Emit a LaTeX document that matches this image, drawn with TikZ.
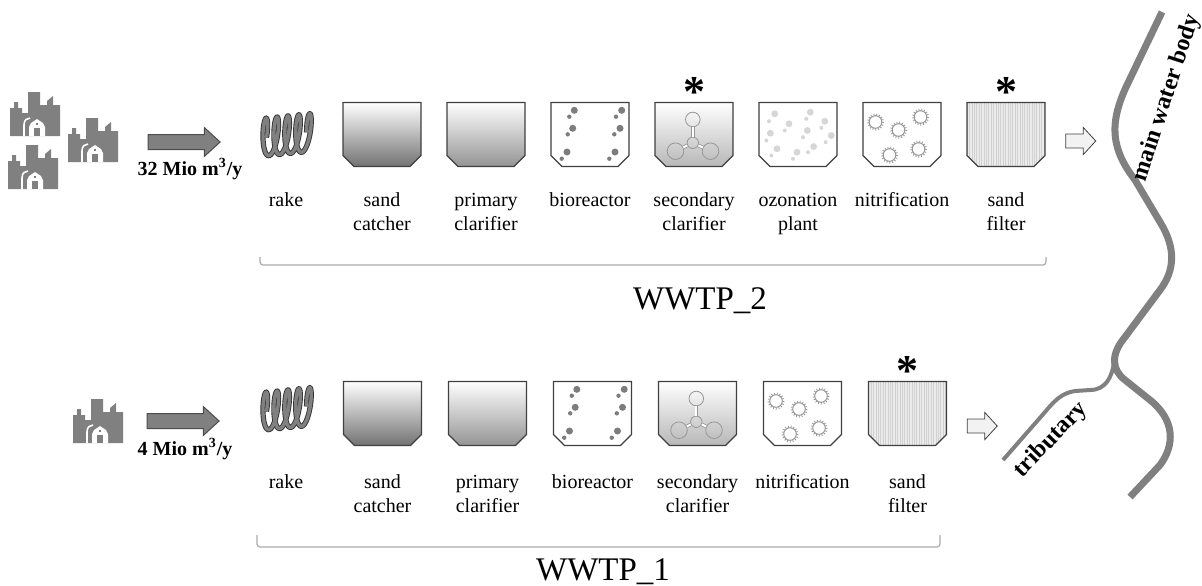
\documentclass[tikz,border=0pt]{standalone}
\usepackage{fontspec}
\setmainfont{Liberation Serif}
\usetikzlibrary{
  shapes.arrows,
  patterns.meta,
  positioning,
  calc
}
\definecolor{icongray}{RGB}{128,128,128}
\definecolor{tankcolor}{RGB}{64,64,64}
\definecolor{dotgray}{RGB}{125,125,125}
\definecolor{ozonegray}{RGB}{214,214,214}
\definecolor{symbolgray}{RGB}{150,150,150}
\definecolor{bracketgray}{RGB}{170,170,170}
\definecolor{rivergray}{RGB}{128,128,128}
\tikzset{
tank/.style={
  rectangle,
  minimum width=39pt,
  minimum height=32pt,
  inner sep=0pt,
  outer sep=0pt
},
tankwall/.style={
  draw=tankcolor,
  line width=0.6pt
},
steplabel/.style={
  font=\fontsize{10}{12}\selectfont,
  align=center,
  anchor=base,
  inner sep=0pt
},
twoline/.style={
  yshift=-12pt
},
flowlabel/.style={
  font=\bfseries\fontsize{10}{12}\selectfont,
  anchor=base,
  inner sep=0pt
},
plantlabel/.style={
  font=\fontsize{16.5}{18}\selectfont,
  anchor=base,
  inner sep=0pt
},
riverlabel/.style={
  font=\bfseries\fontsize{12}{14}\selectfont,
  inner sep=0pt
},
asterisk/.style={
  font=\bfseries\fontsize{22}{22}\selectfont,
  anchor=base,
  inner sep=0pt
},
flowarrow/.style={
  single arrow,
  draw=black!70,
  fill=icongray,
  line width=0.5pt,
  minimum height=36pt,
  inner sep=3.5pt,
  single arrow head extend=3.5pt,
  single arrow tip angle=85
},
outarrow/.style={
  single arrow,
  draw=black!75,
  fill=black!5,
  line width=0.4pt,
  minimum height=15pt,
  inner sep=3.3pt,
  single arrow head extend=3.3pt,
  single arrow tip angle=95
},
lobe/.style={
  circle,
  draw=symbolgray,
  line width=0.4pt,
  inner sep=0pt
},
stem/.style={
  draw=symbolgray,
  line width=0.4pt,
  double=white,
  double distance=1pt
},
cellwall/.style={
  draw=symbolgray,
  line width=0.5pt
},
cellhair/.style={
  draw=symbolgray,
  line width=0.9pt,
  dash pattern=on 0.4pt off 1pt
},
rakecoil/.style={
  draw=black!80,
  line width=0.45pt,
  double=icongray,
  double distance=1.7pt
},
bracket/.style={
  draw=bracketgray,
  line width=0.6pt,
  rounded corners=1.5pt
},
river/.style={
  draw=rivergray,
  line join=round
},
factory/.pic={
  \fill[icongray] (0,44) -- (0,16) -- (4,16) -- (4,10) -- (8,10) -- (8,16)
    -- (12,16) -- (12,21) -- (18,21) -- (18,0) -- (30,0) -- (30,13)
    -- (37,13) -- (37,9) -- (43,4) -- (43,13) -- (50,13) -- (50,44) -- cycle;
  \draw[white, line width=0.8pt] (14,44) -- (14,33) .. controls (14,28) and (17,26) .. (20,26);
  \fill[white] (19,44) -- (19,35) -- (21,31) -- (27,27) -- (33,31) -- (35,35) -- (35,44) -- cycle;
  \fill[icongray] (24,36) rectangle (30,44);
  \fill[icongray] (26,30.5) rectangle (28,32.5);
}
}

% outline of a basin with cut lower corners
\newcommand{\drawtank}[2]{%
  \path[tankwall,#2] (#1.north west) -- (#1.north east)
    -- ([yshift=5.5pt]#1.south east) -- ([xshift=-5.5pt]#1.south east)
    -- ([xshift=5.5pt]#1.south west) -- ([yshift=5.5pt]#1.south west) -- cycle;}

% basin contents, drawn round the origin
\newcommand{\biodots}{%
  \foreach \x/\y in {-15.7/-24.2, -17.3/-6.2, -23/17.5, 31.7/-24.2, 30/-6.2, 25/17.5}
    \fill[dotgray] (\x,\y) circle (3.5);
  \foreach \x/\y in {-20.7/-17.8, -22.3/-0.2, -28.3/24.2, 26/-17.8, 24.3/-0.2, 19.3/24.2}
    \fill[dotgray] (\x,\y) circle (2.2);}
\newcommand{\ozonedots}{%
  \foreach \x/\y in {-23.3/-20.7, -9/-10.7, -27.7/-1.3, -21/14.3, 12.3/-22.3,
                     26.7/-13.3, 9.3/-4, 33.3/1, 15.7/12, -1/17.7}
    \fill[ozonegray] (\x,\y) circle (3.4);
  \foreach \x/\y in {-29/-13.3, -13.3/-4, -31.7/6, -26.7/21, 8.3/-15.7,
                     23.3/-6.7, 5/2.7, 27.7/7.7, 10/17.7, -5/24.3}
    \fill[ozonegray] (\x,\y) circle (2);}
\newcommand{\nitrocells}{%
  \foreach \x/\y in {-26.5/-12.5, -3.5/-4.5, 18.5/-17.5, -12.5/20.5, 16.5/14.5} {
    \draw[cellwall] (\x,\y) circle (6.3);
    \draw[cellhair] (\x,\y) circle (7.6);}}
\newcommand{\clarsymbol}{%
  \node[lobe, minimum size=5.7pt] (hub) at (-1.2,8.3) {};
  \node[lobe, minimum size=7.3pt] (lobeA) at (-1.2,-15) {};
  \node[lobe, minimum size=8.3pt] (lobeB) at (-18.5,16.7) {};
  \node[lobe, minimum size=8.3pt] (lobeC) at (16.5,16.7) {};
  \foreach \l in {lobeA,lobeB,lobeC} \draw[stem] (hub) -- (\l);}
\newcommand{\rakecoil}{%
  \draw[rakecoil] plot[domain=0:1620, samples=200, smooth]
    ({-24+\x/33+4.5*cos(\x)+1.5*sin(\x)}, {3-19*sin(\x)-\x/320});}

\begin{document}
\begin{tikzpicture}[x=0.5pt, y=-0.5pt]
  \useasboundingbox (0,0) rectangle (1202,585);

  % Sources and inflow
  \pic at (10,92) {factory};
  \pic at (68,118) {factory};
  \pic at (8,145) {factory};
  \pic at (73,399) {factory};

  \node[flowarrow] (in2) at (180,142) {};
  \node[flowlabel] (q2) at (190,175) {32 Mio m\textsuperscript{3}/y};
  \node[flowarrow] (in1) at (179,421) {};
  \node[flowlabel] (q1) at (185,455) {4 Mio m\textsuperscript{3}/y};

  % Row 1: WWTP_2
  \node[tank] (t2rake) at (286,134.5) {};
  \node[tank] (t2sand) at (382,134.5) {};
  \node[tank, right=13pt of t2sand] (t2prim) {};
  \node[tank, right=13pt of t2prim] (t2bio) {};
  \node[tank, right=13pt of t2bio] (t2clar) {};
  \node[tank, right=13pt of t2clar] (t2ozone) {};
  \node[tank, right=13pt of t2ozone] (t2nitro) {};
  \node[tank, right=13pt of t2nitro] (t2filter) {};

  \begin{scope}[shift={(t2rake.center)}] \rakecoil \end{scope}
  \drawtank{t2sand}{top color=white, middle color=black!10, bottom color=black!55}
  \drawtank{t2prim}{top color=white, middle color=black!6, bottom color=black!42}
  \drawtank{t2bio}{fill=white}
  \begin{scope}[shift={(t2bio.center)}] \biodots \end{scope}
  \drawtank{t2clar}{top color=white, middle color=white, bottom color=black!28}
  \begin{scope}[shift={(t2clar.center)}] \clarsymbol \end{scope}
  \drawtank{t2ozone}{fill=white}
  \begin{scope}[shift={(t2ozone.center)}] \ozonedots \end{scope}
  \drawtank{t2nitro}{fill=white}
  \begin{scope}[shift={(t2nitro.center)}] \nitrocells \end{scope}
  \drawtank{t2filter}{preaction={fill=black!8}, pattern={Lines[angle=90, distance=1.2pt, line width=0.4pt]}, pattern color=black!18}

  \node[asterisk] (a2clar) at ([yshift=-2pt]t2clar.north) {*};
  \node[asterisk] (a2filter) at ([yshift=-2pt]t2filter.north) {*};

  \node[steplabel] (l2rake) at ([yshift=-20pt]t2sand.south -| t2rake) {rake};
  \node[steplabel, twoline] (l2sand) at ([yshift=-20pt]t2sand.south) {sand\\catcher};
  \node[steplabel, twoline] (l2prim) at ([yshift=-20pt]t2prim.south) {primary\\clarifier};
  \node[steplabel] (l2bio) at ([yshift=-20pt]t2bio.south) {bioreactor};
  \node[steplabel, twoline] (l2clar) at ([yshift=-20pt]t2clar.south) {secondary\\clarifier};
  \node[steplabel, twoline] (l2ozone) at ([yshift=-20pt]t2ozone.south) {ozonation\\plant};
  \node[steplabel] (l2nitro) at ([yshift=-20pt]t2nitro.south) {nitrification};
  \node[steplabel, twoline] (l2filter) at ([yshift=-20pt]t2filter.south) {sand\\filter};

  \node[outarrow] (out2) at (1077.5,141) {};

  \draw[bracket] (260,257) -- (260,265) -- (1046,265) -- (1046,257);
  \node[plantlabel] (w2) at (700,309) {WWTP\_2};

  % Row 2: WWTP_1
  \node[tank] (t1rake) at (286,408.5) {};
  \node[tank] (t1sand) at (382.5,413.5) {};
  \node[tank, right=13.5pt of t1sand] (t1prim) {};
  \node[tank, right=13.5pt of t1prim] (t1bio) {};
  \node[tank, right=13.5pt of t1bio] (t1clar) {};
  \node[tank, right=13.5pt of t1clar] (t1nitro) {};
  \node[tank, right=13.5pt of t1nitro] (t1filter) {};

  \begin{scope}[shift={(t1rake.center)}] \rakecoil \end{scope}
  \drawtank{t1sand}{top color=white, middle color=black!10, bottom color=black!55}
  \drawtank{t1prim}{top color=white, middle color=black!6, bottom color=black!42}
  \drawtank{t1bio}{fill=white}
  \begin{scope}[shift={(t1bio.center)}] \biodots \end{scope}
  \drawtank{t1clar}{top color=white, middle color=white, bottom color=black!28}
  \begin{scope}[shift={(t1clar.center)}] \clarsymbol \end{scope}
  \drawtank{t1nitro}{fill=white}
  \begin{scope}[shift={(t1nitro.center)}] \nitrocells \end{scope}
  \drawtank{t1filter}{preaction={fill=black!8}, pattern={Lines[angle=90, distance=1.2pt, line width=0.4pt]}, pattern color=black!18}

  \node[asterisk] (a1filter) at ([yshift=-2pt]t1filter.north) {*};

  \node[steplabel] (l1rake) at ([yshift=-21.5pt]t1sand.south -| t1rake) {rake};
  \node[steplabel, twoline] (l1sand) at ([yshift=-21.5pt]t1sand.south) {sand\\catcher};
  \node[steplabel, twoline] (l1prim) at ([yshift=-21.5pt]t1prim.south) {primary\\clarifier};
  \node[steplabel] (l1bio) at ([yshift=-21.5pt]t1bio.south) {bioreactor};
  \node[steplabel, twoline] (l1clar) at ([yshift=-21.5pt]t1clar.south) {secondary\\clarifier};
  \node[steplabel] (l1nitro) at ([yshift=-21.5pt]t1nitro.south) {nitrification};
  \node[steplabel, twoline] (l1filter) at ([yshift=-21.5pt]t1filter.south) {sand\\filter};

  \node[outarrow] (out1) at (979,426) {};

  \draw[bracket] (257,535) -- (257,547) -- (940,547) -- (940,535);
  \node[plantlabel] (w1) at (603,580) {WWTP\_1};

  % Receiving waters
  \draw[river, line width=3.5pt] (1162,12) -- (1127,85)
    .. controls (1108,125) and (1112,150) .. (1135,180) -- (1160,222)
    .. controls (1176,248) and (1175,270) .. (1160,290) -- (1125,337)
    .. controls (1110,355) and (1112,370) .. (1125,380) -- (1150,400)
    .. controls (1175,420) and (1175,445) .. (1160,465) -- (1130,497);
  \draw[river, line width=2pt] (1114,362)
    .. controls (1112,378) and (1105,390) .. (1090,390) -- (1075,391)
    .. controls (1062,393) and (1055,400) .. (1045,412) -- (1003,460);
  \node[riverlabel, rotate=72] (main) at (1167,98) {main water body};
  \node[riverlabel, rotate=46] (trib) at (1051,440) {tributary};
\end{tikzpicture}
\end{document}
